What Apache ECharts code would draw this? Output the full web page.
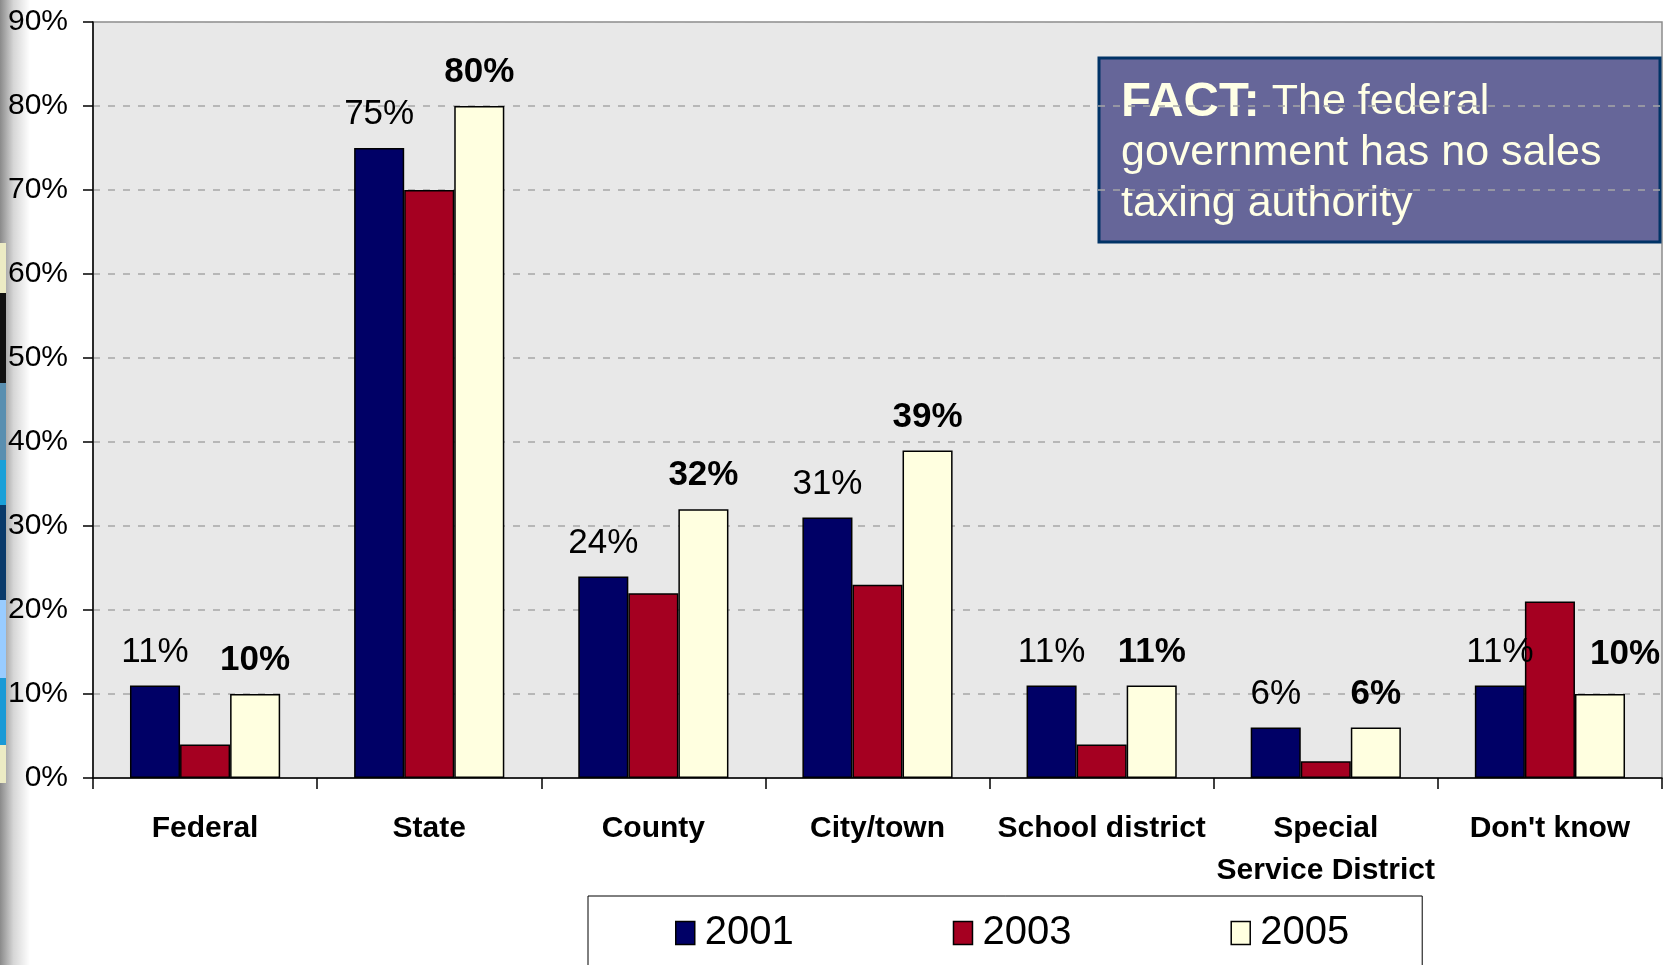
<!DOCTYPE html>
<html>
<head>
<meta charset="utf-8">
<title>Sales tax authority</title>
<script src="https://cdn.jsdelivr.net/npm/echarts@6/dist/echarts.min.js"></script>
<style>
  html, body { margin: 0; padding: 0; background: #fff; }
  #main { width: 1674px; height: 965px; }
</style>
</head>
<body>
<div id="main"></div>
<script>
// categories (x axis)
var categories = ['Federal', 'State', 'County', 'City/town', 'School district', 'Special\nService District', "Don't know"];
// survey years
var years = ['2001', '2003', '2005'];
// values in percent, one array per year
var v2001 = [11, 75, 24, 31, 11, 6, 11];
var v2003 = [4, 70, 22, 23, 4, 2, 21];
var v2005 = [10, 80, 32, 39, 11, 6, 10];
// y axis ticks
var yMin = 0, yMax = 90, yStep = 10;

var colors = ['#000066', '#a50021', '#ffffe0'];
var font = '"Liberation Sans", Arial, sans-serif';

var chart = echarts.init(document.getElementById('main'));

function barSeries(name, data, color, labelWeight) {
  return {
    name: name,
    type: 'bar',
    data: data,
    barGap: 0,
    barCategoryGap: '33%',
    itemStyle: {
      color: color,
      borderColor: '#000',
      borderWidth: 1.5
    },
    label: {
      show: labelWeight != null,
      position: 'top',
      distance: 16,
      formatter: '{c}%',
      fontFamily: font,
      fontSize: 35,
      fontWeight: labelWeight || 'normal',
      color: '#000'
    }
  };
}

// last 2005 label sits to the right of its bar in the original, as the 2003 bar is in the way
var d2005 = v2005.map(function (v, i) {
  return i === v2005.length - 1 ? { value: v, label: { offset: [25, -6] } } : v;
});

// the slide edge on the left, with bits of the slide background showing
var edgeBits = [
  [243, 50, '#ecebc4'], [293, 90, '#111111'], [383, 77, '#5a8fb0'], [460, 45, '#1aa0d8'],
  [505, 95, '#0a3a6a'], [600, 78, '#99ccff'], [678, 67, '#1a9ad6'], [745, 38, '#ecebc4']
];
var edgeGraphics = edgeBits.map(function (b) {
  return {
    type: 'rect', left: 0, top: b[0], z: -1,
    shape: { width: 6, height: b[1] },
    style: { fill: b[2] }
  };
});

var option = {
  animation: false,
  backgroundColor: '#fff',
  textStyle: { fontFamily: font },
  grid: {
    left: 93,
    top: 22,
    right: 12,
    bottom: 187,
    show: true,
    backgroundColor: '#e8e8e8',
    borderColor: '#8c8c8c',
    borderWidth: 1.5
  },
  legend: {
    data: years,
    left: 588,
    top: 896,
    orient: 'horizontal',
    padding: [17, 73, 60, 87],
    borderColor: '#000',
    borderWidth: 1,
    backgroundColor: '#fff',
    itemGap: 159,
    itemWidth: 19,
    itemHeight: 23,
    icon: 'rect',
    itemStyle: { borderColor: '#000', borderWidth: 1.5 },
    textStyle: {
      fontFamily: '"Liberation Sans Narrow", "Arial Narrow", "Liberation Sans", sans-serif',
      fontSize: 40,
      color: '#000',
      padding: [0, 0, 0, 5]
    }
  },
  xAxis: {
    type: 'category',
    data: categories,
    axisLine: { lineStyle: { color: '#000', width: 1.5 } },
    axisTick: { show: true, length: 11, lineStyle: { color: '#000', width: 1.5 } },
    axisLabel: {
      interval: 0,
      margin: 30,
      fontFamily: font,
      fontSize: 30,
      fontWeight: 'bold',
      lineHeight: 42,
      color: '#000'
    },
    splitLine: { show: false }
  },
  yAxis: {
    type: 'value',
    min: yMin,
    max: yMax,
    interval: yStep,
    axisLine: { show: true, lineStyle: { color: '#000', width: 1.5 } },
    axisTick: { show: true, length: 10, lineStyle: { color: '#000', width: 1.5 } },
    axisLabel: {
      formatter: '{value}%',
      margin: 25,
      fontFamily: font,
      fontSize: 30,
      color: '#000'
    },
    splitLine: {
      show: true,
      lineStyle: { color: '#a6a6a6', width: 1.5, type: [7, 8] }
    }
  },
  series: [
    barSeries(years[0], v2001, colors[0], 'normal'),
    barSeries(years[1], v2003, colors[1], null),
    barSeries(years[2], d2005, colors[2], 'bold')
  ],
  graphic: [
    // gray slide edge
    {
      type: 'rect',
      left: 0,
      top: 0,
      z: -2,
      shape: { width: 30, height: 965 },
      style: {
        fill: new echarts.graphic.LinearGradient(0, 0, 1, 0, [
          { offset: 0, color: '#8a8a8a' },
          { offset: 0.45, color: '#d6d6d6' },
          { offset: 1, color: '#ffffff' }
        ])
      }
    }
  ].concat(edgeGraphics).concat([
    // FACT box
    {
      type: 'group',
      z: 100,
      children: [
        {
          type: 'rect',
          shape: { x: 1099, y: 58, width: 561, height: 184 },
          style: { fill: '#666699', stroke: '#003366', lineWidth: 3 }
        },
        {
          type: 'text',
          style: {
            x: 1121,
            y: 77,
            fill: '#ffffe5',
            fontFamily: font,
            fontSize: 43,
            lineHeight: 51,
            text: '{b|FACT:}{n| The federal}\n{n|government has no sales}\n{n|taxing authority}',
            rich: {
              b: { fontFamily: font, fontSize: 49, fontWeight: 'bold', lineHeight: 51, fill: '#ffffe5' },
              n: { fontFamily: font, fontSize: 43, lineHeight: 51, fill: '#ffffe5' }
            }
          }
        }
      ]
    }
  ])
};

chart.setOption(option);
</script>
</body>
</html>
